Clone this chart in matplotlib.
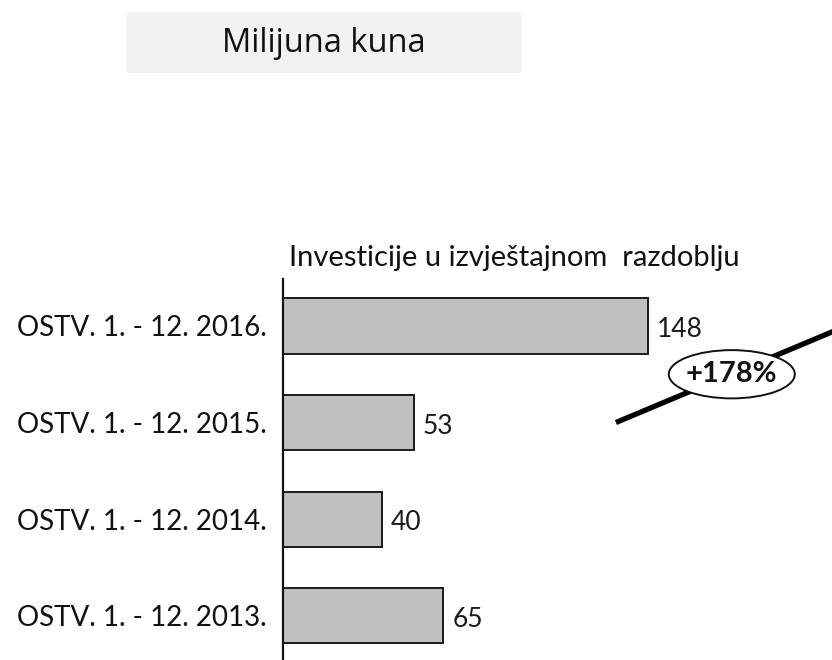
import matplotlib
matplotlib.use("Agg")
import matplotlib.pyplot as plt
from matplotlib.patches import Ellipse, Rectangle

categories = ["OSTV. 1. - 12. 2013.", "OSTV. 1. - 12. 2014.", "OSTV. 1. - 12. 2015.", "OSTV. 1. - 12. 2016."]
values = [65, 40, 53, 148]
value_labels = ["65", "40", "53", "148"]
title_box = "Milijuna kuna"
chart_title = "Investicije u izvještajnom  razdoblju"
change_label = "+178%"

W, H = 832, 660
fig = plt.figure(figsize=(W / 100, H / 100), dpi=100)

ax_left = 283 / W
ax_top_px = 279
ax = fig.add_axes([ax_left, 0, 1 - ax_left, (H - ax_top_px) / H])
xmax = (W - 283) / 2.466
ax.set_xlim(0, xmax)
ax.set_ylim(-0.461, 3.487)

ypos = list(range(len(categories)))
ax.barh(ypos, values, height=0.57, color="#c0c0c0", edgecolor="#1a1a1a", linewidth=1.4, zorder=2)

for y, v, lab in zip(ypos, values, value_labels):
    ax.text(v + 9 / 2.466, y - 0.04, lab, va="center", ha="left", fontsize=19,
            family="Lato", color="#1a1a1a")

ax.set_yticks(ypos)
ax.set_yticklabels(categories, fontsize=20, family="Lato", color="#111111")
ax.tick_params(axis="y", length=0, pad=11.5)
ax.set_xticks([])
for s in ["top", "right", "bottom"]:
    ax.spines[s].set_visible(False)
ax.spines["left"].set_linewidth(1.6)
ax.spines["left"].set_color("#111111")

# chart title
fig.text(289 / W, 1 - 258 / H, chart_title, ha="left", va="center",
         fontsize=21, family="Lato", color="#111111")

# trend line and ellipse with change label
ax.plot([135, xmax + 2], [2.0, 2.96], color="#000000", linewidth=3.8,
        solid_capstyle="butt", zorder=3, clip_on=False)
ax.add_patch(Ellipse((182, 2.50), 51.1, 0.50, facecolor="white",
                     edgecolor="#111111", linewidth=1.4, zorder=4, clip_on=False))
ax.text(182, 2.50, change_label, ha="center", va="center", fontsize=21,
        fontweight="bold", family="Lato", color="#111111", zorder=5)

# title box
fig.patches.append(Rectangle((127 / W, 1 - 73 / H), (521 - 127) / W, 61 / H,
                             transform=fig.transFigure, facecolor="#f2f2f2",
                             edgecolor="none", zorder=0))
fig.text(324 / W, 1 - 44 / H, title_box, ha="center", va="center",
         fontsize=23.5, family="Open Sans", color="#111111")

fig.savefig("out.png", dpi=100)
